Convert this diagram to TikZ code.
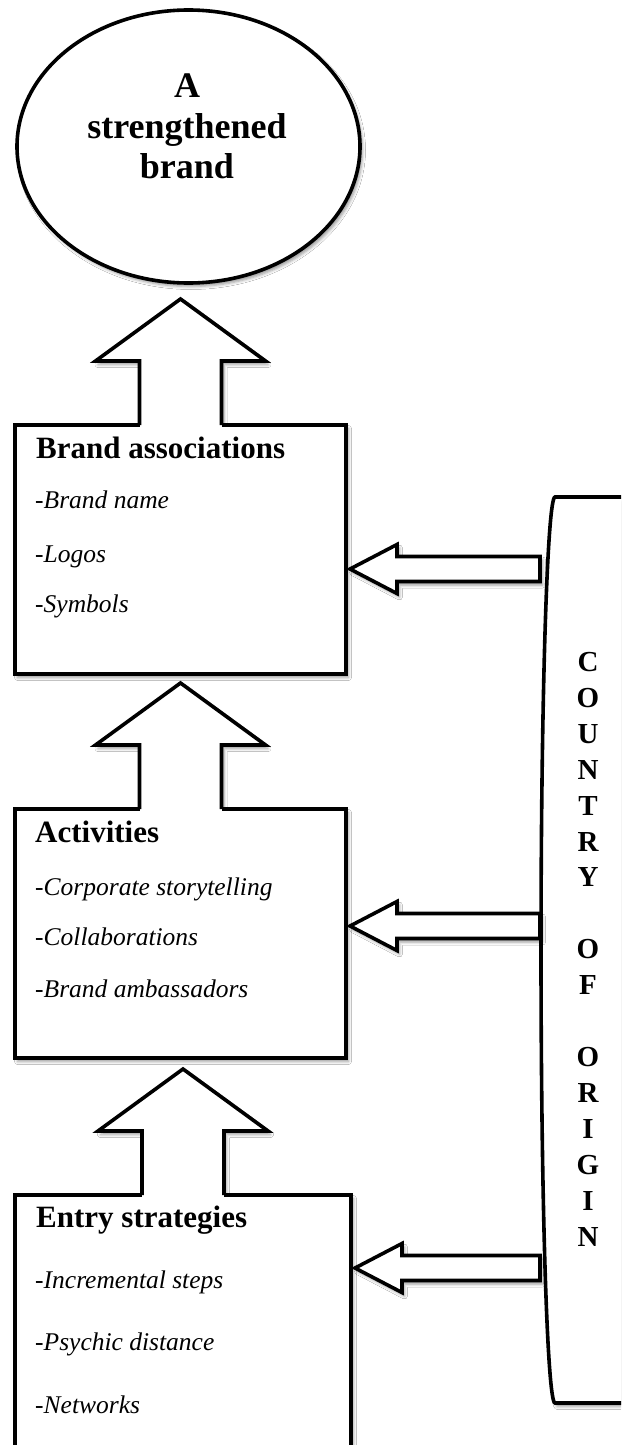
\documentclass[tikz,border=0pt]{standalone}
\usepackage{fontspec}
\setmainfont{Liberation Serif}
\usetikzlibrary{shapes.geometric,shadows.blur,calc}
\tikzset{
  ln/.style={line width=3.6pt, line join=miter},
  shd/.style={blur shadow={shadow xshift=2.5pt, shadow yshift=-3.5pt, shadow blur radius=3pt}},
  boxst/.style={ln, draw=black, fill=white, shd, anchor=north west, inner sep=0pt, outer sep=0pt},
  ttl/.style={anchor=base west, inner sep=0pt, font=\fontsize{31}{36}\selectfont\bfseries},
  itm/.style={anchor=base west, inner sep=0pt, font=\fontsize{25.5}{30}\selectfont\itshape},
  big/.style={anchor=base, inner sep=0pt, font=\fontsize{36}{40}\selectfont\bfseries},
  coo/.style={anchor=base, inner sep=0pt, font=\fontsize{29}{36}\selectfont\bfseries},
}
% filled body of an upward block arrow standing on a box (with shadow)
\newcommand\upfill[1]{%
  \fill[white, shd] let \p1=(#1.north) in
    (\x1-41pt,\y1-2pt) -- (\x1-41pt,\y1+64pt) -- (\x1-85pt,\y1+64pt) -- (\x1,\y1+126pt)
    -- (\x1+85pt,\y1+64pt) -- (\x1+41pt,\y1+64pt) -- (\x1+41pt,\y1-2pt) -- cycle;}
% outline of the upward block arrow, opening into the box
\newcommand\upline[1]{%
  \fill[white] let \p1=(#1.north) in (\x1-41pt,\y1-2.5pt) rectangle (\x1+41pt,\y1+2.5pt);
  \draw[ln] let \p1=(#1.north) in
    (\x1-41pt,\y1) -- (\x1-41pt,\y1+64pt) -- (\x1-85pt,\y1+64pt) -- (\x1,\y1+126pt)
    -- (\x1+85pt,\y1+64pt) -- (\x1+41pt,\y1+64pt) -- (\x1+41pt,\y1);}
\newcommand\leftblock[2]{%
  \draw[ln, fill=white, shd] let \p1=(#1), \p2=(#2) in
    (\x1,\y1+12.5pt) -- (\x2+51pt,\y1+12.5pt) -- (\x2+51pt,\y1+24.5pt) -- (\x2+4pt,\y1)
    -- (\x2+51pt,\y1-24.5pt) -- (\x2+51pt,\y1-12.5pt) -- (\x1,\y1-12.5pt) -- cycle;}
\begin{document}
\begin{tikzpicture}[x=1pt,y=-1pt]
\useasboundingbox (0,0) rectangle (621,1445);
\clip (0,0) rectangle (621,1445);
\fill[white] (0,0) rectangle (621,1445);

% top ellipse
\node[ellipse, ln, draw, fill=white, shd, minimum width=343pt, minimum height=273pt, inner sep=0pt] (e) at (188.5,146.5) {};

% box positions (invisible first, to anchor arrows)
\path (15,425) coordinate (p1) (15,809) coordinate (p2) (15,1195) coordinate (p3);
\node[anchor=north west, minimum width=331pt, minimum height=249pt, inner sep=0pt, outer sep=0pt] (b1) at (p1) {};
\node[anchor=north west, minimum width=331pt, minimum height=249pt, inner sep=0pt, outer sep=0pt] (b2) at (p2) {};
\node[anchor=north west, minimum width=336pt, minimum height=290pt, inner sep=0pt, outer sep=0pt] (b3) at (p3) {};

% arrow bodies (with shadows) under the boxes
\upfill{b1}
\upfill{b2}
\upfill{b3}

% boxes
\node[boxst, minimum width=331pt, minimum height=249pt] (B1) at (p1) {};
\node[boxst, minimum width=331pt, minimum height=249pt] (B2) at (p2) {};
\node[boxst, minimum width=336pt, minimum height=290pt] (B3) at (p3) {};

% arrow outlines
\upline{b1}
\upline{b2}
\upline{b3}

% country of origin panel
\draw[ln, fill=white, shd] (660,497) -- (555,497)
  arc[start angle=90, end angle=270, x radius=14pt, y radius=453pt] -- (660,1403) -- cycle;
\coordinate (k1) at (540,569);
\coordinate (k2) at (540,926);
\coordinate (k3) at (540,1268);

% block arrows left
\leftblock{k1}{b1.east}
\leftblock{k2}{b2.east}
\leftblock{k3}{b3.east}

% ellipse text
\node[big] (e1) at (187,97) {A};
\node[big] (e2) at (187,138) {strengthened};
\node[big] (e3) at (187,178) {brand};

% box texts
\node[ttl] (t1) at (36,458) {Brand associations};
\node[itm] (t1a) at (35,508) {-Brand name};
\node[itm] (t1b) at (35,562) {-Logos};
\node[itm] (t1c) at (35,612) {-Symbols};

\node[ttl] (t2) at (35,842) {Activities};
\node[itm] (t2a) at (35,895) {-Corporate storytelling};
\node[itm] (t2b) at (35,945) {-Collaborations};
\node[itm] (t2c) at (35,997) {-Brand ambassadors};

\node[ttl] (t3) at (36,1227) {Entry strategies};
\node[itm] (t3a) at (35,1288) {-Incremental steps};
\node[itm] (t3b) at (35,1350) {-Psychic distance};
\node[itm] (t3c) at (35,1413) {-Networks};

% vertical label
\foreach \l [count=\i] in {C,O,U,N,T,R,Y,{},O,F,{},O,R,I,G,I,N}
  \node[coo] (c\i) at (588,{671.3+(\i-1)*35.94}) {\l};
\end{tikzpicture}
\end{document}
